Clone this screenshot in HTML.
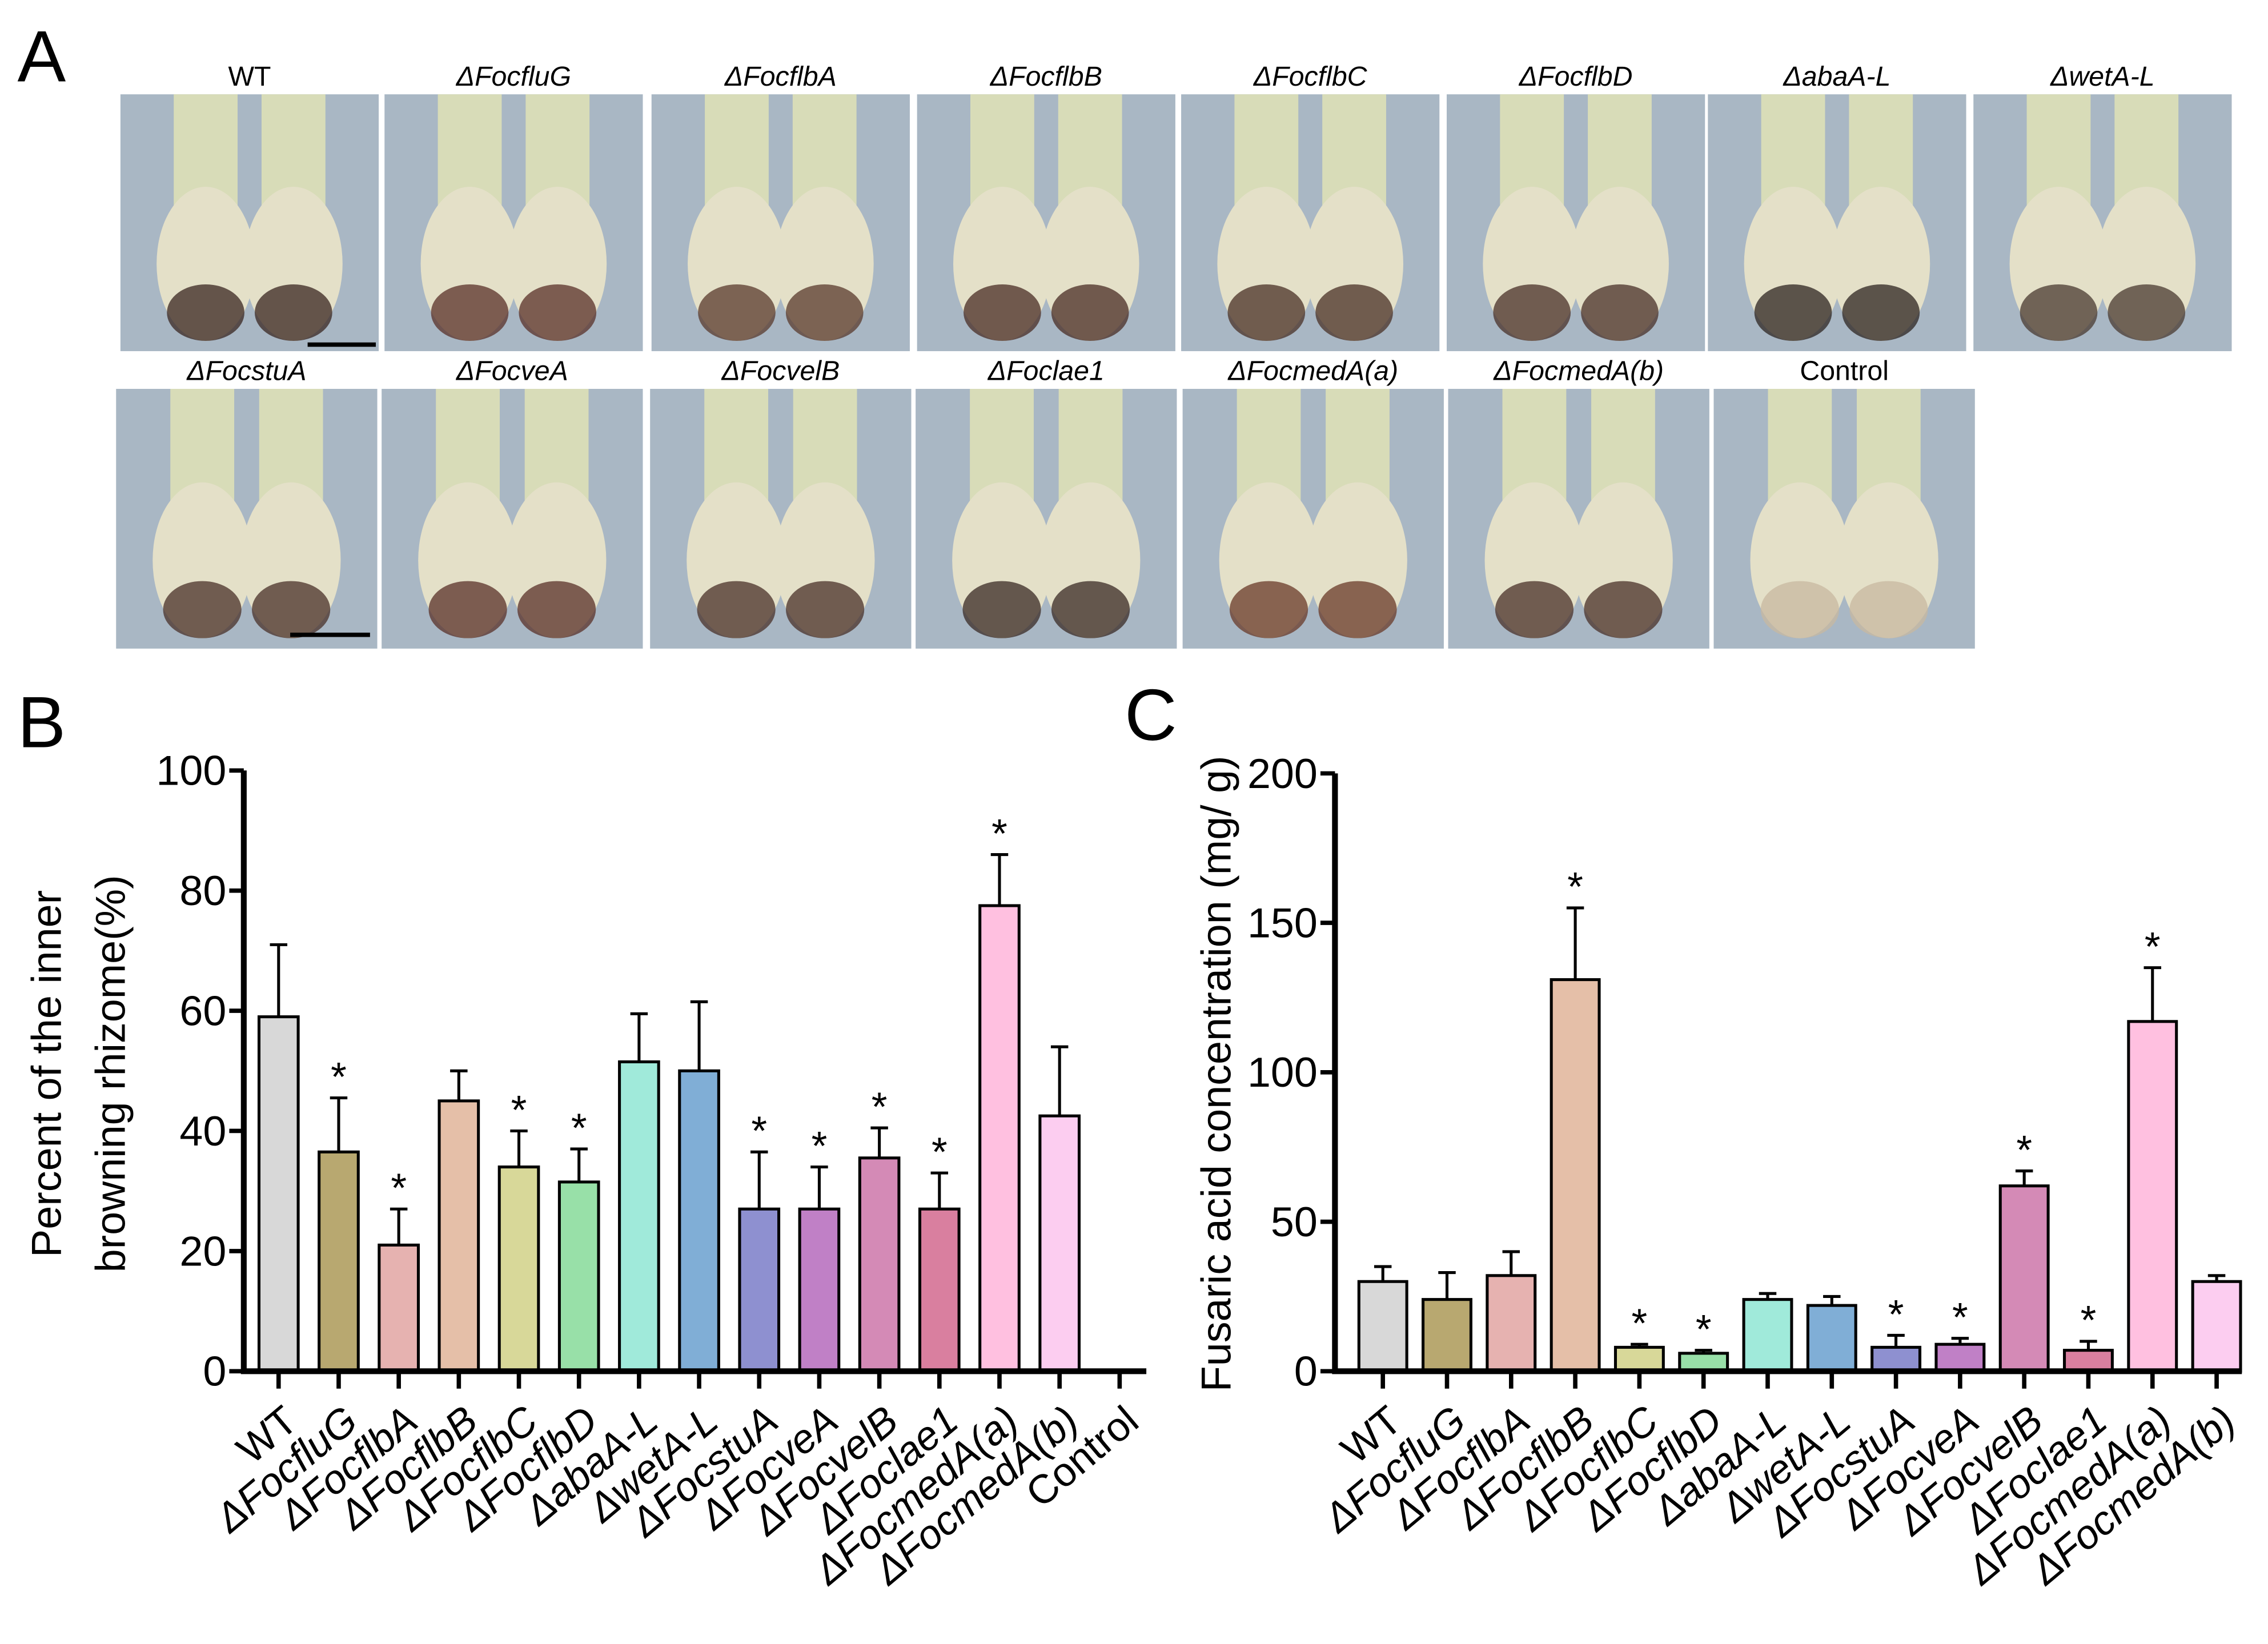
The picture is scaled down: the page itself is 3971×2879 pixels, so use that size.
<!DOCTYPE html>
<html><head><meta charset="utf-8"><style>html,body{margin:0;padding:0;background:#fff}svg{display:block}text{font-family:"Liberation Sans",sans-serif}</style></head>
<body>
<svg id="fig" width="3971" height="2879" viewBox="0 0 1563 1133" preserveAspectRatio="none" xmlns="http://www.w3.org/2000/svg">
<rect width="1563" height="1133" fill="#fff"/>
<text x="12" y="56" font-size="50">A</text>
<text x="12" y="515" font-size="50">B</text>
<text x="775" y="510" font-size="50">C</text>
<g id="photos"></g>
<g id="chartB"></g>
<g id="chartC"></g>
</svg>
<script>
const NS="http://www.w3.org/2000/svg";
function mk(tag,attrs,parent,txt){const e=document.createElementNS(NS,tag);for(const k in attrs)e.setAttribute(k,attrs[k]);if(txt!==undefined)e.textContent=txt;parent.appendChild(e);return e;}

// Panel A photos
const photoLabels1=["WT","ΔFocfluG","ΔFocflbA","ΔFocflbB","ΔFocflbC","ΔFocflbD","ΔabaA-L","ΔwetA-L"];
const photoLabels2=["ΔFocstuA","ΔFocveA","ΔFocvelB","ΔFoclae1","ΔFocmedA(a)","ΔFocmedA(b)","Control"];
const photos=document.getElementById('photos');
function photo(x,y,w,h,label,dark){
  const g=mk('g',{},photos);
  
  
  mk('rect',{x:x,y:y,width:w,height:h,fill:'#a9b7c4'},g);
  for(const cx of [x+w*0.33,x+w*0.67]){
    mk('rect',{x:cx-22,y:y,width:44,height:h*0.5,fill:'#d8dcb8'},g);
    mk('ellipse',{cx:cx,cy:y+h*0.66,rx:w*0.19,ry:h*0.3,fill:'#e4e0c8'},g);
    mk('ellipse',{cx:cx,cy:y+h*0.85,rx:w*0.15,ry:h*0.11,fill:dark,opacity:0.75},g);
  }
  const t=mk('text',{x:x+w/2,y:y-6,'font-size':19,'text-anchor':'middle','font-style':label==='WT'||label==='Control'?'normal':'italic'},photos,label);
  
  
}
const xs1=[83,265,449,632,814,997,1177,1360];
const xs2=[80,263,448,631,815,998,1181];
const darks1=['#3a2620','#5a3028','#5a3a2c','#4a2c24','#4a3026','#4a3028','#2e2420','#4a3a30'];
const darks2=['#4a3028','#5a3028','#4a3028','#3a2a24','#6a3a28','#4a3028','#c8b8a0'];
xs1.forEach((x,i)=>photo(x,65,178,177,photoLabels1[i],darks1[i]));
xs2.forEach((x,i)=>photo(x,268,180,179,photoLabels2[i],darks2[i]));
const sb1=mk('rect',{x:212,y:236,width:47,height:3,fill:'#000'},photos);


const sb2=mk('rect',{x:200,y:436,width:55,height:3,fill:'#000'},photos);



// Chart data
const catsB=["WT","ΔFocfluG","ΔFocflbA","ΔFocflbB","ΔFocflbC","ΔFocflbD","ΔabaA-L","ΔwetA-L","ΔFocstuA","ΔFocveA","ΔFocvelB","ΔFoclae1","ΔFocmedA(a)","ΔFocmedA(b)","Control"];
const valsB=[59,36.5,21,45,34,31.5,51.5,50,27,27,35.5,27,77.5,42.5,0];
const errB=[71,45.5,27,50,40,37,59.5,61.5,36.5,34,40.5,33,86,54,0];
const starB=[0,1,1,0,1,1,0,0,1,1,1,1,1,0,0];
const ticksB=[0,20,40,60,80,100];
const catsC=["WT","ΔFocfluG","ΔFocflbA","ΔFocflbB","ΔFocflbC","ΔFocflbD","ΔabaA-L","ΔwetA-L","ΔFocstuA","ΔFocveA","ΔFocvelB","ΔFoclae1","ΔFocmedA(a)","ΔFocmedA(b)"];
const valsC=[30,24,32,131,8,6,24,22,8,9,62,7,117,30];
const errC=[35,33,40,155,9,7,26,25,12,11,67,10,135,32];
const starC=[0,0,0,1,1,1,0,0,1,1,1,1,1,0];
const ticksC=[0,50,100,150,200];
const colors=["#d8d8d8","#b8a870","#e6b2b0","#e5bfa8","#d8d899","#98e0a8","#a0eada","#80aed6","#8e90d0","#c080c6","#d48ab6","#d97f9f","#ffc0e0","#fccdf0","#ffffff"];

function chart(g,cats,vals,errs,stars,ticks,ymax,ax,x0,dx,bw,y0,ytop,xend,title,tx){
  const Y=v=>y0-(y0-ytop)*v/ymax;
  const X=i=>x0+i*dx;
  const root=document.getElementById(g);
  cats.forEach((c,i)=>{
    const v=vals[i],e=errs[i];
    if(v>0){
      const eb=mk('path',{d:`M${X(i)} ${Y(v)}V${Y(e)}M${X(i)-6} ${Y(e)}H${X(i)+6}`,stroke:'#000','stroke-width':2,fill:'none'},root);
      
      
      const b=mk('rect',{x:X(i)-bw/2,y:Y(v),width:bw,height:y0-Y(v),fill:colors[i],stroke:'#000','stroke-width':2},root);
      
      
    }
    if(stars[i]){
      const s=mk('text',{x:X(i),y:Y(e)-5,'font-size':28,'text-anchor':'middle'},root,'*');
      
      
    }
    const tk=mk('line',{x1:X(i),x2:X(i),y1:y0,y2:y0+12,stroke:'#000','stroke-width':3},root);
    
    
    const lx=X(i)+2,ly=y0+22;
    const t=mk('text',{x:lx,y:ly,'font-size':28,'text-anchor':'end','font-style':(c==='WT'||c==='Control')?'normal':'italic',transform:`rotate(-40 ${lx} ${ly})`,'dominant-baseline':'hanging'},root,c);
    
    
  });
  const axes=mk('path',{d:`M${ax} ${ytop}V${y0}H${xend}`,stroke:'#000','stroke-width':4,fill:'none'},root);
  
  
  ticks.forEach(v=>{
    const l=mk('line',{x1:ax-10,x2:ax,y1:Y(v),y2:Y(v),stroke:'#000','stroke-width':3},root);
    
    
    const t=mk('text',{x:ax-12,y:Y(v)+10,'font-size':29,'text-anchor':'end'},root,String(v));
    
    
  });
  title.forEach((line,k)=>{
    const x=tx+k*44,y=740;
    const t=mk('text',{x:x,y:y,'font-size':29,'text-anchor':'middle',transform:`rotate(-90 ${x} ${y})`},root,line);
    
    
  });
}
chart('chartB',catsB,valsB,errB,starB,ticksB,100,168,192,41.4,27,945,531,790,["Percent of the inner","browning rhizome(%)"],42);
chart('chartC',catsC,valsC,errC,starC,ticksC,200,920,953,44.2,33,945,533,1545,["Fusaric acid concentration (mg/ g)"],848);
</script>
</body></html>
